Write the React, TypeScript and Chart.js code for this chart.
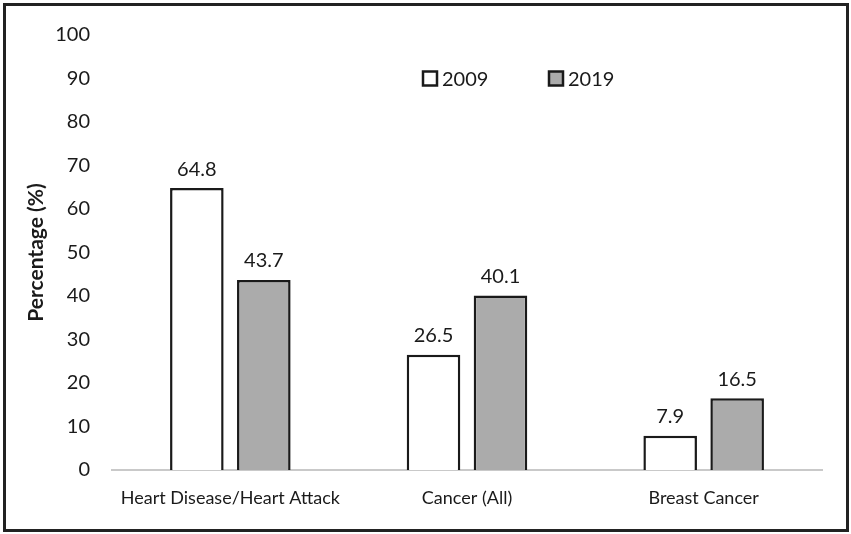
import React, { useEffect, useRef } from "react";
import { Chart, registerables } from "chart.js";

Chart.register(...registerables);

const categories = ["Heart Disease/Heart Attack", "Cancer (All)", "Breast Cancer"];
const seriesLabels = ["2009", "2019"];
const values2009 = [64.8, 26.5, 7.9];
const values2019 = [43.7, 40.1, 16.5];
const yTicks = [0, 10, 20, 30, 40, 50, 60, 70, 80, 90, 100];

const FONT = "Lato, 'Open Sans', sans-serif";
const INK = "#1a1a1a";

const frame = {
  id: "frame",
  beforeDraw(chart: any) {
    const ctx = chart.ctx;
    ctx.save();
    ctx.fillStyle = "#ffffff";
    ctx.fillRect(0, 0, chart.width, chart.height);
    ctx.strokeStyle = "#222222";
    ctx.lineWidth = 3;
    ctx.strokeRect(4.5, 4.5, chart.width - 8, chart.height - 8);
    ctx.restore();
  },
};

const valueLabels = {
  id: "valueLabels",
  afterDatasetsDraw(chart: any) {
    const ctx = chart.ctx;
    ctx.save();
    ctx.font = `20px ${FONT}`;
    ctx.fillStyle = INK;
    ctx.textAlign = "center";
    ctx.textBaseline = "middle";
    chart.data.datasets.forEach((ds: any, i: number) => {
      const meta = chart.getDatasetMeta(i);
      meta.data.forEach((bar: any, j: number) => {
        ctx.fillText(ds.data[j].toFixed(1), bar.x, bar.y - 19);
      });
    });
    ctx.restore();
  },
};

const insideLegend = {
  id: "insideLegend",
  afterDraw(chart: any) {
    const ctx = chart.ctx;
    const y = chart.scales.y.getPixelForValue(90);
    const xs = [423, 549];
    ctx.save();
    ctx.font = `20px ${FONT}`;
    ctx.textBaseline = "middle";
    ctx.textAlign = "left";
    chart.data.datasets.forEach((ds: any, i: number) => {
      const x = xs[i];
      ctx.fillStyle = ds.backgroundColor;
      ctx.fillRect(x, y - 7, 14, 14);
      ctx.strokeStyle = INK;
      ctx.lineWidth = 2.5;
      ctx.strokeRect(x, y - 7, 14, 14);
      ctx.fillStyle = INK;
      ctx.fillText(ds.label, x + 19, y + 1);
    });
    ctx.restore();
  },
};

export default function App() {
  const ref = useRef<HTMLCanvasElement>(null);
  useEffect(() => {
    document.body.style.margin = "0";
    const chart = new Chart(ref.current!, {
      type: "bar",
      data: {
        labels: categories,
        datasets: [
          {
            label: seriesLabels[0],
            data: values2009,
            backgroundColor: "#ffffff",
            borderColor: INK,
            borderWidth: 2.5,
          },
          {
            label: seriesLabels[1],
            data: values2019,
            backgroundColor: "#ababab",
            borderColor: INK,
            borderWidth: 2.5,
          },
        ],
      },
      options: {
        animation: false,
        responsive: false,
        maintainAspectRatio: false,
        layout: { padding: { left: 18, right: 29, top: 35, bottom: 14 } },
        plugins: { legend: { display: false }, tooltip: { enabled: false } },
        datasets: { bar: { categoryPercentage: 0.566, barPercentage: 0.8 } },
        scales: {
          x: {
            grid: { display: false, drawTicks: false },
            border: { display: true, color: "#c9c9c9", width: 2 },
            ticks: { color: INK, font: { family: FONT, size: 18 }, padding: 17 },
            afterFit: (s: any) => {
              s.height = 50;
            },
          },
          y: {
            min: 0,
            max: 100,
            afterBuildTicks: (s: any) => {
              s.ticks = yTicks.map((v) => ({ value: v }));
            },
            grid: { display: false, drawTicks: false },
            border: { display: false },
            ticks: { color: INK, font: { family: FONT, size: 20 }, padding: 22 },
            title: {
              display: true,
              text: "Percentage (%)",
              color: INK,
              font: { family: FONT, size: 21, weight: "bold" },
              padding: { top: 6, bottom: 0 },
            },
            afterFit: (s: any) => {
              s.width = 94;
            },
          },
        },
      },
      plugins: [frame, valueLabels, insideLegend],
    });
    return () => chart.destroy();
  }, []);
  return <canvas ref={ref} width={851} height={534} style={{ display: "block" }} />;
}
